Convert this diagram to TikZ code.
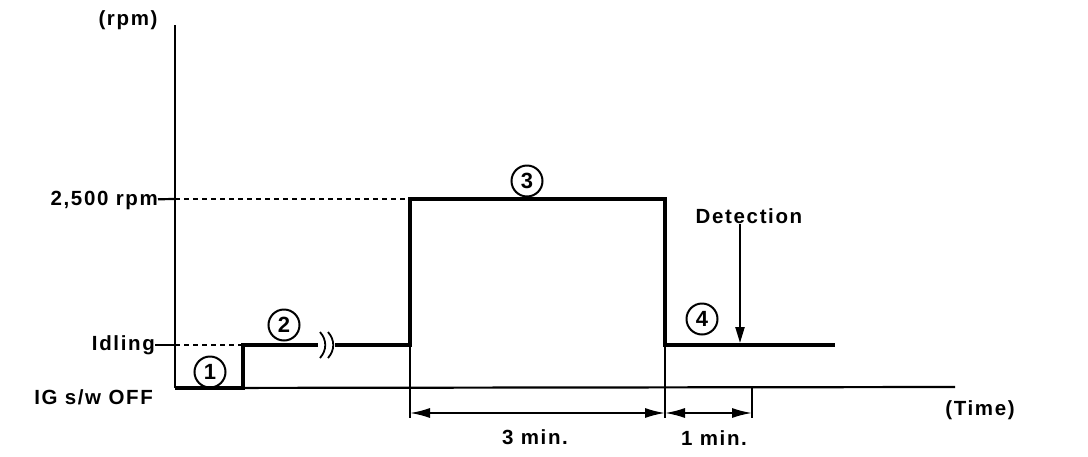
\documentclass[tikz,border=0pt]{standalone}
\usepackage{fontspec}
\setmainfont{Liberation Sans}[LetterSpace=8]
\usetikzlibrary{arrows.meta}
\pgfdeclarelayer{edgelayer}
\pgfdeclarelayer{nodelayer}
\pgfsetlayers{edgelayer,nodelayer,main}
\tikzstyle{txt}=[font=\fontsize{20.5}{24}\selectfont\bfseries, inner sep=0pt]
\tikzstyle{num}=[circle, draw=black, line width=2pt, minimum size=31pt, inner sep=0pt, font=\fontsize{22}{24}\selectfont\bfseries]
\tikzstyle{signal}=[draw=black, line width=4.2pt, line join=miter]
\tikzstyle{axis}=[draw=black, line width=2.2pt]
\tikzstyle{guide}=[draw=black, line width=1.8pt, dash pattern=on 5pt off 4pt]
\tikzstyle{dim}=[draw=black, line width=1.8pt, {Latex[length=20pt,width=10pt]}-{Latex[length=20pt,width=10pt]}]

\begin{document}
\begin{tikzpicture}[x=1pt, y=-1pt]
				\useasboundingbox (0,0) rectangle (1088,456);
				\begin{pgfonlayer}{nodelayer}
					\node [style=txt] (0) at (128,20) {(rpm)};
					\node [style=txt, anchor=east] (1) at (158,200) {2,500 rpm};
					\node [style=txt, anchor=east] (2) at (155,345) {Idling};
					\node [style=txt, anchor=east] (3) at (153,397) {IG s/w OFF};
					\node [style=txt] (4) at (980,410) {(Time)};
					\node [style=txt] (5) at (535,437) {3 min.};
					\node [style=txt] (6) at (714,438) {1 min.};
					\node [style=txt] (7) at (749,216) {Detection};
					\node [style=num] (8) at (210,372) {1};
					\node [style=num] (9) at (284,325) {2};
					\node [style=num] (10) at (527,181) {3};
					\node [style=num] (11) at (702,319) {4};
				\end{pgfonlayer}
				\coordinate (o) at (175,388);
				\coordinate (top) at (175,25);
				\coordinate (xend) at (955,387);
				\coordinate (h) at (175,199);
				\coordinate (l) at (175,345);
				\coordinate (s1) at (243,388);
				\coordinate (s2) at (243,345);
				\coordinate (b1) at (318,345);
				\coordinate (b2) at (335,345);
				\coordinate (s3) at (410,345);
				\coordinate (s4) at (410,199);
				\coordinate (s5) at (665,199);
				\coordinate (s6) at (665,345);
				\coordinate (s7) at (835,345);
				\coordinate (e1) at (410,418);
				\coordinate (e2) at (665,418);
				\coordinate (e3) at (752,418);
				\coordinate (e3t) at (752,388);
				\coordinate (d1) at (410,413);
				\coordinate (d2) at (665,413);
				\coordinate (d3) at (752,413);
				\coordinate (det) at (740,343);
				\begin{pgfonlayer}{edgelayer}
					% axes
					\draw [style=axis] (o) -- (top);
					\draw [style=axis] (o) -- (xend);
					\draw [style=axis] (1) -- (h);
					\draw [style=axis] (2) -- (l);
					\draw [style=guide] (h) -- (s4);
					\draw [style=guide] (l) -- (s2);
					% speed
					\draw [style=signal] (o) -- (s1) -- (s2) -- (b1);
					\draw [style=signal] (b2) -- (s3) -- (s4) -- (s5) -- (s6) -- (s7);
					\draw [line width=1.8pt] (320,332) .. controls (327,340) and (327,350) .. (320,358);
					\draw [line width=1.8pt] (328,332) .. controls (335,340) and (335,350) .. (328,358);
					% times
					\draw [style=axis] (s3) -- (e1);
					\draw [style=axis] (s6) -- (e2);
					\draw [style=axis] (e3t) -- (e3);
					\draw [style=dim] (d1) -- (d2);
					\draw [style=dim] (d2) -- (d3);
					\draw [line width=2.2pt, -{Triangle[length=16pt,width=9pt]}] (7.south -| det) -- (det);
				\end{pgfonlayer}
			\end{tikzpicture}
\end{document}
